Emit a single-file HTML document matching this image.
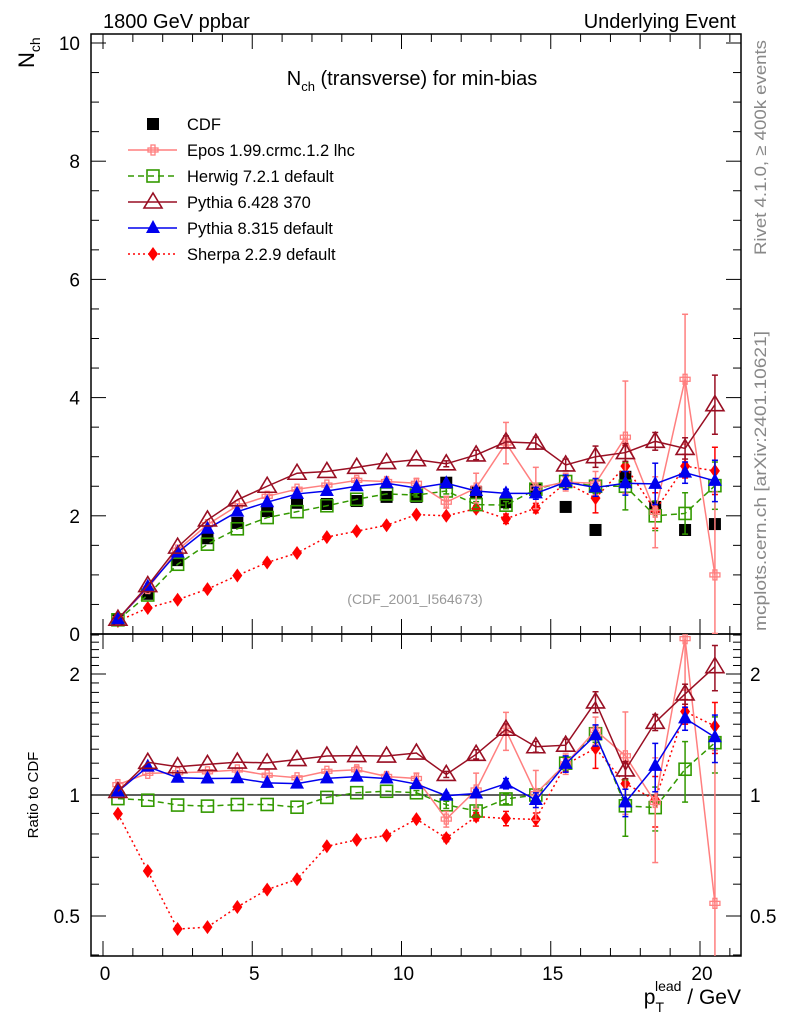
<!DOCTYPE html>
<html><head><meta charset="utf-8"><style>
html,body{margin:0;padding:0;background:#fff;overflow:hidden;width:786px;height:1024px;}
svg{display:block;font-family:"Liberation Sans",Arial,sans-serif;}
</style></head><body>
<svg id="chart" width="786" height="1024" viewBox="0 0 786 1024" xmlns="http://www.w3.org/2000/svg">
<rect x="0" y="0" width="786" height="1024" fill="#fff"/>
<text x="103" y="28" font-size="20">1800 GeV ppbar</text>
<text x="736" y="28" font-size="20" text-anchor="end">Underlying Event</text>
<text transform="translate(34,68) rotate(-90)" font-size="22">N<tspan font-size="14" dy="6">ch</tspan></text>
<text x="412" y="85" font-size="20" text-anchor="middle">N<tspan font-size="13" dy="6">ch</tspan><tspan dy="-6"> (transverse) for min-bias</tspan></text>
<text x="415" y="604" font-size="14" fill="#999" text-anchor="middle">(CDF_2001_I564673)</text>
<text transform="translate(766,255) rotate(-90)" font-size="17" fill="#888" textLength="215" lengthAdjust="spacingAndGlyphs">Rivet 4.1.0, ≥ 400k events</text>
<text transform="translate(766,631) rotate(-90)" font-size="17" fill="#888" textLength="300" lengthAdjust="spacingAndGlyphs">mcplots.cern.ch [arXiv:2401.10621]</text>
<text transform="translate(38,795) rotate(-90)" font-size="15" text-anchor="middle">Ratio to CDF</text>
<text x="741" y="1004" font-size="21" text-anchor="end">p<tspan font-size="14" dy="8">T</tspan><tspan font-size="14" dx="-9" dy="-21">lead</tspan><tspan dy="13"> / GeV</tspan></text>
<g id="plots"></g>
</svg>
<script>
const xCenters = [0.5,1.5,2.5,3.5,4.5,5.5,6.5,7.5,8.5,9.5,10.5,11.5,12.5,13.5,14.5,15.5,16.5,17.5,18.5,19.5,20.5];
const cdfVals = [0.245,0.68,1.25,1.62,1.88,2.08,2.22,2.2,2.25,2.32,2.32,2.56,2.4,2.23,2.45,2.15,1.76,2.66,2.15,1.76,1.86];
const eposVals = [0.26,0.77,1.42,1.85,2.17,2.33,2.45,2.52,2.6,2.58,2.55,2.23,2.47,3.23,2.47,2.57,2.55,3.33,2.06,4.31,1.0];
const eposErr = [0,0,0,0,0,0,0,0,0.05,0.05,0.08,0.1,0.25,0.35,0.35,0.15,0.2,0.95,0.6,1.1,1.4];
const herwigVals = [0.24,0.66,1.18,1.52,1.78,1.97,2.07,2.17,2.28,2.37,2.35,2.42,2.19,2.18,2.45,2.58,2.5,2.5,2.0,2.04,2.51];
const herwigErr = [0,0,0,0,0,0,0,0,0,0,0.03,0.05,0.05,0.06,0.08,0.1,0.12,0.4,0.25,0.35,0.4];
const py6Vals = [0.25,0.82,1.47,1.93,2.27,2.5,2.72,2.75,2.82,2.9,2.95,2.88,3.03,3.25,3.23,2.86,3.0,3.07,3.26,3.14,3.88];
const py6Err = [0,0,0,0,0,0,0,0,0,0,0,0.05,0.08,0.1,0.1,0.1,0.18,0.15,0.15,0.18,0.5];
const py8Vals = [0.25,0.8,1.38,1.78,2.07,2.23,2.37,2.42,2.5,2.55,2.47,2.55,2.42,2.38,2.38,2.57,2.48,2.55,2.54,2.73,2.59];
const py8Err = [0,0,0,0,0,0,0,0,0,0,0,0.04,0.05,0.07,0.1,0.12,0.15,0.2,0.35,0.18,0.35];
const sherpaVals = [0.22,0.44,0.58,0.76,0.99,1.21,1.37,1.64,1.74,1.84,2.02,2.0,2.12,1.95,2.13,2.56,2.3,2.84,2.09,2.84,2.76];
const sherpaErr = [0,0,0,0,0,0,0,0,0,0,0,0.04,0.05,0.08,0.08,0.1,0.25,0.35,0.3,0.2,0.4];
const mainTicks = [0,2,4,6,8,10];
const ratioTicks = [0.5,1,2];
const xTicks = [0,5,10,15,20];

const SVGNS = "http://www.w3.org/2000/svg";
const root = document.getElementById('plots');
const L=91, R=741, T=34, MID=634, B=956;
const xs = v => 103 + v*29.85;
const ym = v => 634 - v*59.1;
const yr = v => 795 - 121*Math.log2(v);
function el(tag, attrs, parent){const e=document.createElementNS(SVGNS,tag);for(const k in attrs)e.setAttribute(k,attrs[k]);(parent||root).appendChild(e);return e;}

const defs = el('defs',{});
const c1 = el('clipPath',{id:'cm'},defs); el('rect',{x:L,y:T,width:R-L,height:MID-T},c1);
const c2 = el('clipPath',{id:'cr'},defs); el('rect',{x:L,y:MID,width:R-L,height:B-MID},c2);

const f1 = el('rect',{x:L,y:T,width:R-L,height:MID-T,fill:'none',stroke:'#000','stroke-width':1.5});


const f2 = el('rect',{x:L,y:MID,width:R-L,height:B-MID,fill:'none',stroke:'#000','stroke-width':1.5});


const oneLine = el('line',{x1:L,x2:R,y1:yr(1),y2:yr(1),stroke:'#000','stroke-width':1.3});



for(let v=0; v<=21; v++){
  const big = v%5===0, len = big?15:8, x = xs(v);
  [[B,-1],[MID,-1],[MID,1],[T,1]].forEach(([y0,d])=>{
    el('line',{x1:x,x2:x,y1:y0,y2:y0+d*len,stroke:'#000','stroke-width':1});
  });
}
xTicks.forEach(v=>{
  const t = el('text',{x:xs(v)+2,y:980,'font-size':19,'text-anchor':'middle'});
  t.textContent = v;
  
  
});
for(let v=0; v<=10.01; v+=0.5){
  const big = Math.abs(v%2)<0.01, len=big?15:8, y=ym(v);
  el('line',{x1:L,x2:L+len,y1:y,y2:y,stroke:'#000','stroke-width':1});
  el('line',{x1:R,x2:R-len,y1:y,y2:y,stroke:'#000','stroke-width':1});
}
mainTicks.forEach(v=>{
  const t = el('text',{x:80,y:ym(v)+7,'font-size':19,'text-anchor':'end'});
  t.textContent = v;
  
  
});
[0.4,0.5,0.6,0.7,0.8,0.9,1,1.1,1.2,1.3,1.4,1.5,1.6,1.7,1.8,1.9,2,2.1,2.2,2.3,2.4,2.5].forEach(v=>{
  const y=yr(v); if(y<MID||y>B) return;
  const big = ratioTicks.some(r=>Math.abs(r-v)<1e-6), len=big?15:8;
  el('line',{x1:L,x2:L+len,y1:y,y2:y,stroke:'#000','stroke-width':1});
  el('line',{x1:R,x2:R-len,y1:y,y2:y,stroke:'#000','stroke-width':1});
});
ratioTicks.forEach(v=>{
  const t = el('text',{x:80,y:yr(v)+7,'font-size':19,'text-anchor':'end'});
  t.textContent = v;
  
  
  const t2 = el('text',{x:750,y:yr(v)+7,'font-size':19});
  t2.textContent = v;
  
  
});

function marker(g, type, color, x, y){
  if(type==='square') el('rect',{x:x-6,y:y-6,width:12,height:12,fill:color},g);
  else if(type==='osquare') el('rect',{x:x-6,y:y-6,width:12,height:12,fill:'none',stroke:color,'stroke-width':1.6},g);
  else if(type==='cross'){ el('rect',{x:x-5,y:y-2,width:10,height:4,fill:'none',stroke:color,'stroke-width':1.3},g); el('rect',{x:x-2,y:y-5,width:4,height:10,fill:'none',stroke:color,'stroke-width':1.3},g);}
  else if(type==='otri') el('polygon',{points:`${x},${y-9} ${x-9},${y+6} ${x+9},${y+6}`,fill:'none',stroke:color,'stroke-width':1.6},g);
  else if(type==='tri') el('polygon',{points:`${x},${y-8} ${x-7},${y+5} ${x+7},${y+5}`,fill:color},g);
  else if(type==='diamond') el('polygon',{points:`${x},${y-7} ${x-5},${y} ${x},${y+7} ${x+5},${y}`,fill:color},g);
}

const series = [
  {name:'sherpa', vals:sherpaVals, err:sherpaErr, color:'#ff0000', dash:'2,3', m:'diamond'},
  {name:'herwig', vals:herwigVals, err:herwigErr, color:'#339900', dash:'6,4', m:'osquare'},
  {name:'epos', vals:eposVals, err:eposErr, color:'#ff7f7f', dash:null, m:'cross'},
  {name:'pythia8', vals:py8Vals, err:py8Err, color:'#0000ee', dash:null, m:'tri'},
  {name:'pythia6', vals:py6Vals, err:py6Err, color:'#990f23', dash:null, m:'otri'},
];

function drawSeries(s, panel){
  const yf = panel==='main' ? ym : yr;
  const g = el('g',{'clip-path': panel==='main'?'url(#cm)':'url(#cr)'});
  
  
  const val = i => panel==='main' ? s.vals[i] : s.vals[i]/cdfVals[i];
  const er = i => panel==='main' ? s.err[i] : s.err[i]/cdfVals[i];
  const pts = xCenters.map((x,i)=>`${xs(x)},${yf(val(i))}`).join(' ');
  const pl = el('polyline',{points:pts,fill:'none',stroke:s.color,'stroke-width':1.5},g);
  if(s.dash) pl.setAttribute('stroke-dasharray',s.dash);
  xCenters.forEach((x,i)=>{
    if(er(i)>0){
      const lo = Math.max(val(i)-er(i), 0.01), hi = val(i)+er(i);
      const X=xs(x);
      el('line',{x1:X,x2:X,y1:yf(lo),y2:yf(hi),stroke:s.color,'stroke-width':1.5},g);
      el('line',{x1:X-3,x2:X+3,y1:yf(lo),y2:yf(lo),stroke:s.color,'stroke-width':1.5},g);
      el('line',{x1:X-3,x2:X+3,y1:yf(hi),y2:yf(hi),stroke:s.color,'stroke-width':1.5},g);
    }
    marker(g, s.m, s.color, xs(x), yf(val(i)));
  });
}
const cg = el('g',{'clip-path':'url(#cm)'});


xCenters.forEach((x,i)=>marker(cg,'square','#000',xs(x),ym(cdfVals[i])));
series.forEach(s=>{drawSeries(s,'main'); drawSeries(s,'ratio');});

const legendOrder = [
  {label:'CDF', color:'#000', m:'square', line:false},
  {label:'Epos 1.99.crmc.1.2 lhc', color:'#ff7f7f', m:'cross', line:true},
  {label:'Herwig 7.2.1 default', color:'#339900', m:'osquare', line:true, dash:'6,4'},
  {label:'Pythia 6.428 370', color:'#990f23', m:'otri', line:true},
  {label:'Pythia 8.315 default', color:'#0000ee', m:'tri', line:true},
  {label:'Sherpa 2.2.9 default', color:'#ff0000', m:'diamond', line:true, dash:'2,3'},
];
legendOrder.forEach((e,i)=>{
  const y = 124 + i*26;
  const g = el('g',{});
  
  
  if(e.line){ const l=el('line',{x1:128,x2:177,y1:y,y2:y,stroke:e.color,'stroke-width':1.5},g); if(e.dash) l.setAttribute('stroke-dasharray',e.dash); }
  marker(g,e.m,e.color,153,y);
  const t = el('text',{x:187,y:y+6,'font-size':16.5},g);
  t.textContent = e.label;
});
</script>
</body></html>
